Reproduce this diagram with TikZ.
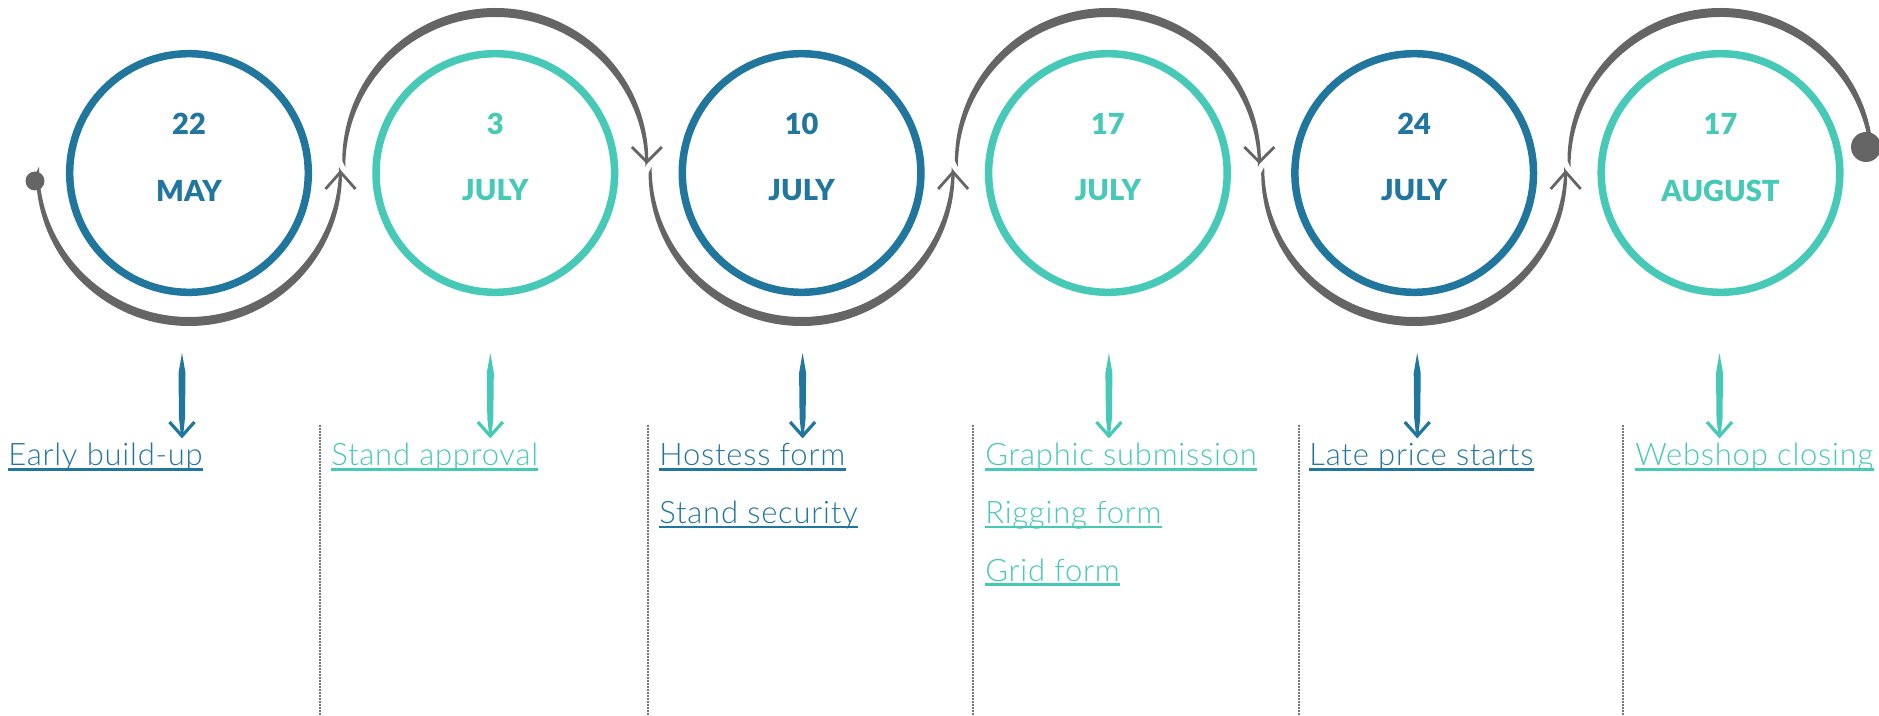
\documentclass[tikz,border=0pt]{standalone}
\usepackage{fontspec}
\setmainfont{Lato}
\newfontfamily\thinfont{Lato Light}[LetterSpace=2.5]
\newfontfamily\datefont{Lato Black}
\definecolor{stepblue}{HTML}{21769D}
\definecolor{stepteal}{HTML}{46C9B6}
\definecolor{trail}{HTML}{656565}
\definecolor{rule}{HTML}{777777}
\tikzset{
  datering/.style={circle, draw=#1, line width=3.75pt, minimum size=119.3pt, inner sep=0pt},
  datetext/.style={text=#1, inner sep=0pt, font=\fontsize{14.5}{14.5}\selectfont\datefont},
  steplabel/.style={text=#1, anchor=base west, inner sep=0pt, font=\fontsize{15.5}{15.5}\selectfont\thinfont},
  linkline/.style={draw=#1, line width=1.1pt},
  barb/.style={draw=trail, line width=1.4pt},
  pointer/.style={draw=#1, line width=1.6pt},
  enddot/.style={circle, fill=trail, inner sep=0pt, minimum size=#1},
  column/.style={draw=rule, line width=0.8pt, dash pattern=on 0.8pt off 0.7pt},
}
\begin{document}
\begin{tikzpicture}[x=0.5pt, y=0.5pt]
  \useasboundingbox (0,0) rectangle (1879,-716);
  % dates
  \foreach \i/\x/\dx/\dnum/\dmon/\col in {1/189/-7/22/MAY/stepblue, 2/495.3/-5/3/JULY/stepteal,
      3/801.6/1/10/JULY/stepblue, 4/1107.9/1/17/JULY/stepteal,
      5/1414.2/3/24/JULY/stepblue, 6/1720.5/-1/17/AUGUST/stepteal}{
    \node[datering=\col] (d\i) at (\x,-173) {};
    \node[datetext=\col] (day\i) at ([yshift=24.5pt]d\i.center) {\dnum};
    \node[datetext=\col] (mon\i) at ([yshift=-8.75pt]d\i.center) {\dmon};
    % arrow down to the forms
    \fill[\col] (d\i.center) ++(\dx,-180) coordinate (top\i) -- ++(3.5,-20) -- ++(-0.5,-45)
      -- ++(-1.8,-17) -- ++(-2.4,0) -- ++(-1.8,17) -- ++(-0.5,45) -- cycle;
    \path (d\i.center) ++(\dx,-263) coordinate (tip\i);
    \draw[pointer=\col] (tip\i) ++(-12.5,14) -- (tip\i) -- ++(12.5,14);
  }
  % the trail
  \foreach \i in {1,...,5}{
    \ifodd\i
      \fill[trail] (d\i.center) ++(-153,0) arc[start angle=180, end angle=360, radius=153]
        -- ++(-3,6) arc[start angle=0, end angle=-180, radius=150] -- cycle;
      \path (d\i.center) ++(151.5,1) coordinate (gap\i);
      \draw[barb] (gap\i) ++(-15,-17) -- (gap\i) -- ++(15,-17);
    \else
      \fill[trail] (d\i.center) ++(-153,12) arc[start angle=180, end angle=0, radius=153]
        -- ++(-3,-6) arc[start angle=0, end angle=180, radius=150] -- cycle;
      \path (d\i.center) ++(151.5,11) coordinate (gap\i);
      \draw[barb] (gap\i) ++(-15,15) -- (gap\i) -- ++(15,15);
    \fi
  }
  \fill[trail] (d6.center) ++(-153,12) arc[start angle=180, end angle=8, radius=153]
    -- ++(-2.97,-6.41) arc[start angle=8, end angle=180, radius=150] -- cycle;
  \node[enddot=9.5pt] (start) at (35,-181) {};
  \node[enddot=15pt] (stop) at (1866,-147) {};
  % columns
  \foreach \x in {320,648,973,1299,1623}
    \draw[column] (\x,-425) -- (\x,-716);
  \node[steplabel=stepblue] (early) at (8,-466) {Early build-up};
  \node[steplabel=stepteal] (approval) at (331,-466) {Stand approval};
  \node[steplabel=stepblue] (hostess) at (659,-466) {Hostess form};
  \node[steplabel=stepblue] (security) at (659,-523.5) {Stand security};
  \node[steplabel=stepteal] (graphic) at (985,-466) {Graphic submission};
  \node[steplabel=stepteal] (rigging) at (985,-523.5) {Rigging form};
  \node[steplabel=stepteal] (grid) at (985,-581) {Grid form};
  \node[steplabel=stepblue] (lateprice) at (1309,-466) {Late price starts};
  \node[steplabel=stepteal] (webshop) at (1635,-466) {Webshop closing};
  \foreach \n/\col in {early/stepblue, approval/stepteal, hostess/stepblue, security/stepblue,
      graphic/stepteal, rigging/stepteal, grid/stepteal, lateprice/stepblue, webshop/stepteal}
    \draw[linkline=\col] ([yshift=-1.75pt]\n.base west) -- ([yshift=-1.75pt]\n.base east);
\end{tikzpicture}
\end{document}
